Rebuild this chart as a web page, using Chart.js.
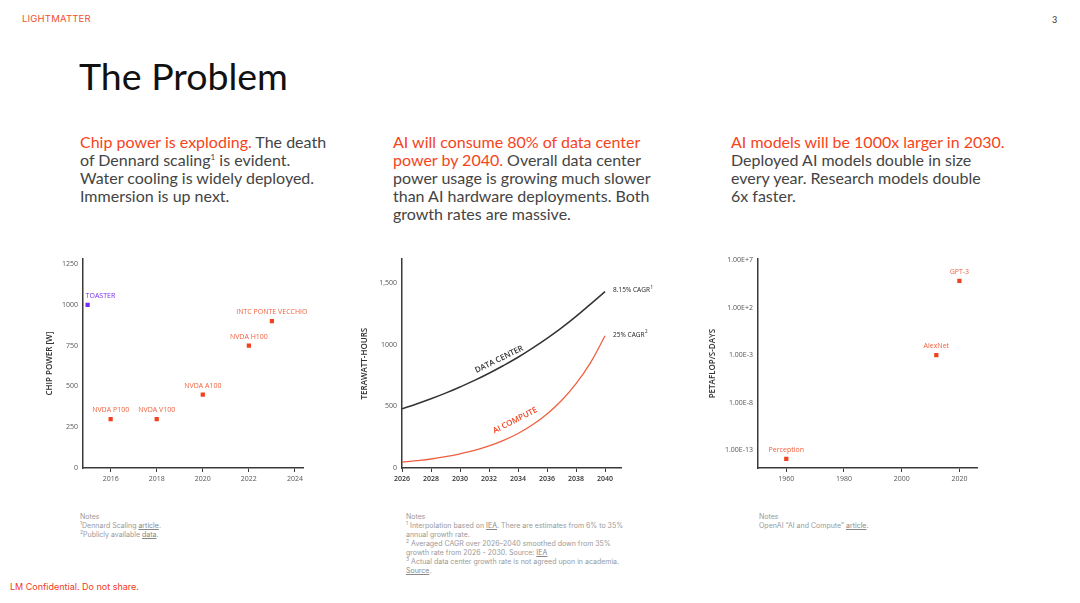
<!DOCTYPE html>
<html>
<head>
<meta charset="utf-8">
<script src="https://cdn.jsdelivr.net/npm/chart.js@4.4.1/dist/chart.umd.min.js"></script>
<style>
  body { margin: 0; background: #fff; }
  #slide { position: relative; width: 1080px; height: 603px; overflow: hidden; font-family: Lato, sans-serif; }
  .abs { position: absolute; white-space: nowrap; }
  .logo { left: 22px; top: 13px; font-size: 9.5px; color: #f0502e; letter-spacing: 0.2px; font-family: Inter, sans-serif; }
  .page { left: 1052px; top: 14px; font-size: 9px; color: #333; }
  .title { left: 79px; top: 57px; font-size: 37.5px; line-height: 37px; color: #111; }
  .lead { top: 133px; font-size: 16px; line-height: 18px; color: #444; }
  .lead .hl { color: #f5441c; }
  .lead sup { font-size: 8px; line-height: 0; vertical-align: 6px; }
  .notes { top: 512px; font-size: 7px; line-height: 9px; color: #999; font-family: Inter, sans-serif; }
  .notes sup { font-size: 5px; line-height: 0; vertical-align: 3px; }
  .notes u { color: #888; }
  .foot { left: 10px; top: 581px; font-size: 9px; color: #f03a1e; font-family: Inter, sans-serif; }
  .chart { position: absolute; }
</style>
</head>
<body>
<div id="slide">
  <div class="abs logo">LIGHTMATTER</div>
  <div class="abs page">3</div>
  <div class="abs title">The Problem</div>

  <div class="abs lead" style="left:80px"><span class="hl">Chip power is exploding.</span> The death<br>of Dennard scaling<sup>1</sup> is evident.<br>Water cooling is widely deployed.<br>Immersion is up next.</div>
  <div class="abs lead" style="left:393px"><span class="hl">AI will consume 80% of data center<br>power by 2040.</span> Overall data center<br>power usage is growing much slower<br>than AI hardware deployments. Both<br>growth rates are massive.</div>
  <div class="abs lead" style="left:731px"><span class="hl">AI models will be 1000x larger in 2030.</span><br>Deployed AI models double in size<br>every year. Research models double<br>6x faster.</div>

  <div class="chart" style="left:40px;top:250px;width:280px;height:240px"><canvas id="chipChart"></canvas></div>
  <div class="chart" style="left:350px;top:250px;width:320px;height:240px"><canvas id="energyChart"></canvas></div>
  <div class="chart" style="left:700px;top:250px;width:300px;height:240px"><canvas id="modelChart"></canvas></div>

  <div class="abs notes" style="left:80px">Notes<br><sup>1</sup>Dennard Scaling <u>article</u>.<br><sup>2</sup>Publicly available <u>data</u>.</div>
  <div class="abs notes" style="left:406px">Notes<br><sup>1</sup> Interpolation based on <u>IEA</u>. There are estimates from 6% to 35%<br>annual growth rate.<br><sup>2</sup> Averaged CAGR over 2026–2040 smoothed down from 35%<br>growth rate from 2026 - 2030. Source: <u>IEA</u><br><sup>3</sup> Actual data center growth rate is not agreed upon in academia.<br><u>Source</u>.</div>
  <div class="abs notes" style="left:759px">Notes<br>OpenAI “AI and Compute” <u>article</u>.</div>

  <div class="abs foot">LM Confidential. Do not share.</div>
</div>

<script>
// chip power chart
const chipNames = ['TOASTER', 'NVDA P100', 'NVDA V100', 'NVDA A100', 'NVDA H100', 'INTC PONTE VECCHIO'];
const chipYears = [2015, 2016, 2018, 2020, 2022, 2023];
const chipWatts = [1000, 300, 300, 450, 750, 900];
const chipTicksX = [2016, 2018, 2020, 2022, 2024];
const chipTicksY = [0, 250, 500, 750, 1000, 1250];

// data center energy chart
const energyYears = [2026, 2027, 2028, 2029, 2030, 2031, 2032, 2033, 2034, 2035, 2036, 2037, 2038, 2039, 2040];
const dataCenterTWh = [480, 519, 561, 607, 657, 710, 768, 831, 898, 972, 1051, 1136, 1229, 1329, 1430];
const aiComputeTWh = [47, 59, 73, 92, 115, 143, 179, 224, 280, 350, 438, 547, 684, 855, 1072];
const energyTicksX = [2026, 2028, 2030, 2032, 2034, 2036, 2038, 2040];
const energyTicksY = [0, 500, 1000, 1500];
const energyTickLabels = ['0', '500', '1000', '1,500'];

// model compute chart
const modelNames = ['Perception', 'AlexNet', 'GPT-3'];
const modelYears = [1960, 2012, 2020];
const modelPfsDays = [1.2e-14, 1e-3, 6.5e4];
const modelTicksX = [1960, 1980, 2000, 2020];
const modelTicksY = [1e-13, 1e-8, 1e-3, 1e2, 1e7];

const RED = '#f0421f';
const RED_TEXT = '#f2613f';
const PURPLE = '#7a2cf2';
const AXIS = '#3a3a3a';
const FONT = '"Open Sans", sans-serif';

Chart.defaults.font.family = FONT;
Chart.defaults.animation = false;

const pointLabels = {
  id: 'pointLabels',
  afterDatasetsDraw(chart, args, opts) {
    const ctx = chart.ctx;
    const meta = chart.getDatasetMeta(0);
    ctx.save();
    ctx.font = '7px ' + FONT;
    ctx.textBaseline = 'middle';
    meta.data.forEach((pt, i) => {
      ctx.fillStyle = opts.colors[i];
      ctx.textAlign = opts.align[i];
      const dx = opts.align[i] === 'left' ? -2 : 0;
      ctx.fillText(opts.names[i], pt.x + dx, pt.y - 9);
    });
    ctx.restore();
  }
};

function fixedScale(size, horizontal) {
  return (s) => { if (horizontal) s.height = size; else s.width = size; };
}

function setTicks(values) {
  return (s) => { s.ticks = values.map(v => ({ value: v })); };
}

const xGrid = { display: true, drawOnChartArea: false, drawTicks: true, tickLength: 4, color: AXIS, lineWidth: 1 };
const yGrid = { display: false, drawTicks: false };
const border = { display: true, color: AXIS, width: 1.5 };

// chart 1
new Chart(document.getElementById('chipChart'), {
  type: 'scatter',
  data: {
    datasets: [{
      data: chipYears.map((y, i) => ({ x: y, y: chipWatts[i] })),
      pointStyle: 'rect',
      pointRadius: 3,
      pointBackgroundColor: chipNames.map((n, i) => i === 0 ? PURPLE : RED),
      pointBorderWidth: 0
    }]
  },
  options: {
    responsive: true,
    maintainAspectRatio: false,
    layout: { padding: { top: 7, right: 17, left: 0, bottom: 0 } },
    plugins: {
      legend: { display: false },
      tooltip: { enabled: false },
      pointLabels: {
        names: chipNames,
        colors: chipNames.map((n, i) => i === 0 ? PURPLE : RED_TEXT),
        align: chipNames.map((n, i) => i === 0 ? 'left' : 'center')
      }
    },
    scales: {
      x: {
        type: 'linear', min: 2014.8, max: 2024.35,
        afterBuildTicks: setTicks(chipTicksX),
        afterFit: fixedScale(22, true),
        grid: xGrid, border: border,
        ticks: { color: '#555', font: { size: 7 }, padding: 3, maxRotation: 0, callback: v => String(v) }
      },
      y: {
        min: 0, max: 1280,
        afterBuildTicks: setTicks(chipTicksY),
        afterFit: fixedScale(43, false),
        grid: yGrid, border: border,
        ticks: { color: '#555', font: { size: 7 }, padding: 5, callback: v => String(v) },
        title: { display: true, text: 'CHIP POWER [W]', color: '#333', font: { size: 8, weight: '600' }, padding: { top: 5, bottom: 0 } }
      }
    }
  },
  plugins: [pointLabels]
});

// chart 2
const curveLabels = {
  id: 'curveLabels',
  afterDatasetsDraw(chart) {
    const ctx = chart.ctx;
    const xs = chart.scales.x, ys = chart.scales.y;
    ctx.save();
    // rotated series names
    const names = [
      { text: 'DATA CENTER', x: 2032.7, y: 880, angle: -26, color: '#333' },
      { text: 'AI COMPUTE', x: 2033.8, y: 385, angle: -27, color: RED }
    ];
    names.forEach(n => {
      ctx.save();
      ctx.translate(xs.getPixelForValue(n.x), ys.getPixelForValue(n.y));
      ctx.rotate(n.angle * Math.PI / 180);
      ctx.font = '600 8px ' + FONT;
      ctx.fillStyle = n.color;
      ctx.textAlign = 'center';
      ctx.textBaseline = 'middle';
      ctx.fillText(n.text, 0, 0);
      ctx.restore();
    });
    // CAGR tags at curve ends
    const tags = [['8.15% CAGR', '1'], ['25% CAGR', '2']];
    chart.data.datasets.forEach((ds, i) => {
      const pts = chart.getDatasetMeta(i).data;
      const end = pts[pts.length - 1];
      const px = end.x + 8, py = end.y - 1;
      ctx.font = '6.5px ' + FONT;
      ctx.fillStyle = '#222';
      ctx.textAlign = 'left';
      ctx.textBaseline = 'middle';
      ctx.fillText(tags[i][0], px, py);
      const w = ctx.measureText(tags[i][0]).width;
      ctx.font = '4.5px ' + FONT;
      ctx.fillText(tags[i][1], px + w + 0.5, py - 3);
    });
    ctx.restore();
  }
};

new Chart(document.getElementById('energyChart'), {
  type: 'scatter',
  data: {
    datasets: [
      {
        data: energyYears.map((y, i) => ({ x: y, y: dataCenterTWh[i] })),
        showLine: true, borderColor: '#333', borderWidth: 1.5, pointRadius: 0, tension: 0.4
      },
      {
        data: energyYears.map((y, i) => ({ x: y, y: aiComputeTWh[i] })),
        showLine: true, borderColor: '#f0603f', borderWidth: 1.3, pointRadius: 0, tension: 0.4
      }
    ]
  },
  options: {
    responsive: true,
    maintainAspectRatio: false,
    layout: { padding: { top: 7, right: 49, left: 0, bottom: 0 } },
    plugins: { legend: { display: false }, tooltip: { enabled: false } },
    scales: {
      x: {
        type: 'linear', min: 2026, max: 2041.1,
        afterBuildTicks: setTicks(energyTicksX),
        afterFit: fixedScale(22, true),
        grid: xGrid, border: border,
        ticks: { color: '#333', font: { size: 7, weight: '600' }, padding: 3, maxRotation: 0, callback: v => String(v) }
      },
      y: {
        min: 0, max: 1693,
        afterBuildTicks: setTicks(energyTicksY),
        afterFit: fixedScale(52, false),
        grid: yGrid, border: border,
        ticks: { color: '#555', font: { size: 7 }, padding: 5, callback: v => energyTickLabels[energyTicksY.indexOf(v)] },
        title: { display: true, text: 'TERAWATT-HOURS', color: '#333', font: { size: 8, weight: '600' }, padding: { top: 10, bottom: 0 } }
      }
    }
  },
  plugins: [curveLabels]
});

// chart 3
new Chart(document.getElementById('modelChart'), {
  type: 'scatter',
  data: {
    datasets: [{
      data: modelYears.map((y, i) => ({ x: y, y: modelPfsDays[i] })),
      pointStyle: 'rect',
      pointRadius: 3,
      pointBackgroundColor: RED,
      pointBorderWidth: 0
    }]
  },
  options: {
    responsive: true,
    maintainAspectRatio: false,
    layout: { padding: { top: 7, right: 23, left: 0, bottom: 0 } },
    plugins: {
      legend: { display: false },
      tooltip: { enabled: false },
      pointLabels: {
        names: modelNames,
        colors: modelNames.map(() => RED_TEXT),
        align: modelNames.map(() => 'center')
      }
    },
    scales: {
      x: {
        type: 'linear', min: 1950.2, max: 2026.1,
        afterBuildTicks: setTicks(modelTicksX),
        afterFit: fixedScale(22, true),
        grid: xGrid, border: border,
        ticks: { color: '#555', font: { size: 7 }, padding: 3, maxRotation: 0, callback: v => String(v) }
      },
      y: {
        type: 'logarithmic', min: 1.33e-15, max: 1.26e7,
        afterBuildTicks: setTicks(modelTicksY),
        afterFit: fixedScale(58, false),
        grid: yGrid, border: border,
        ticks: { color: '#555', font: { size: 7 }, padding: 5, callback: v => Number(v).toExponential(2).toUpperCase() },
        title: { display: true, text: 'PETAFLOP/S-DAYS', color: '#333', font: { size: 8, weight: '600' }, padding: { top: 8, bottom: 0 } }
      }
    }
  },
  plugins: [pointLabels]
});
</script>
</body>
</html>
